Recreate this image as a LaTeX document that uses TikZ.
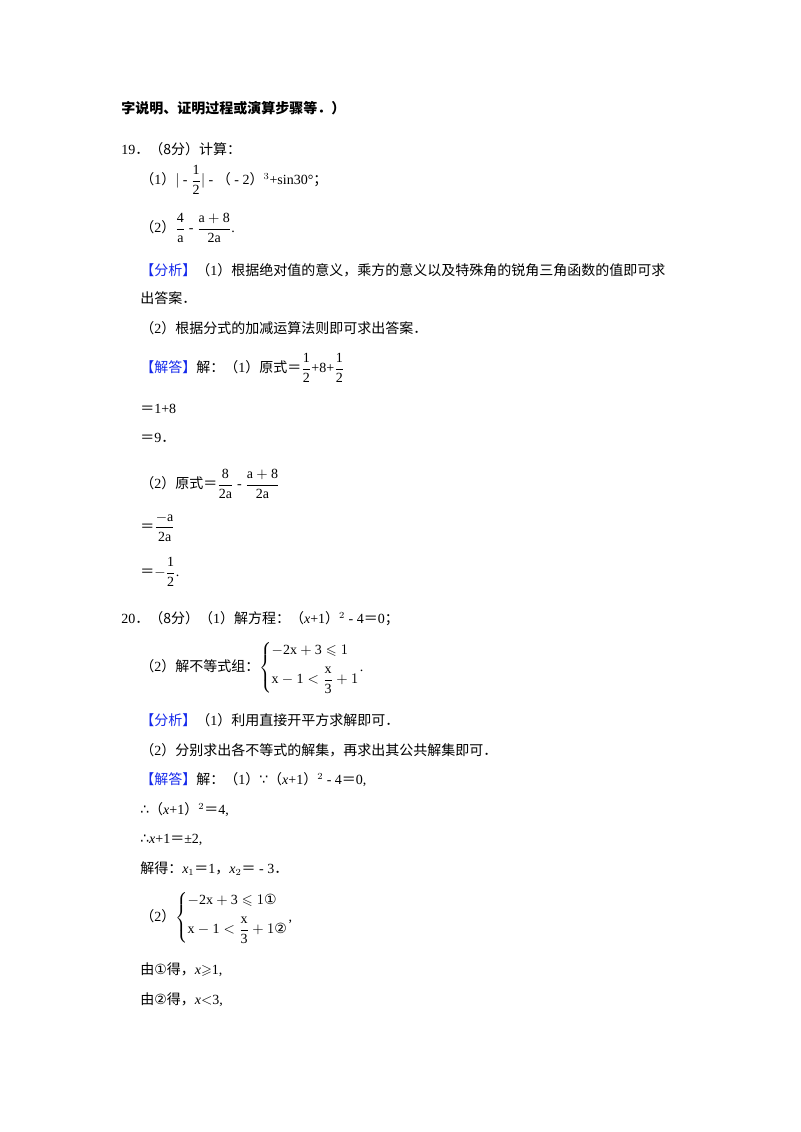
\documentclass[tikz,border=0pt]{standalone}
\usepackage{fontspec}
\usepackage{amsmath,amssymb}
\setmainfont{Liberation Serif}
\newfontfamily\cjk{Noto Sans CJK SC}
\newfontfamily\dv{DejaVu Sans}
\newcommand{\C}[1]{{\cjk #1}}
\newcommand{\fx}[2]{\dfrac{\mathrm{#1}}{\mathrm{#2}}}
\definecolor{fx}{RGB}{20,40,235}
\tikzset{ln/.style={anchor=west,inner sep=0pt,font=\fontsize{10.5}{13}\selectfont}}
\begin{document}
\begin{tikzpicture}[x=0.75pt,y=-0.75pt]
\useasboundingbox (0,0) rectangle (800,1132);
\node[ln] (a0) at (121,108) {\C{\bfseries 字说明、证明过程或演算步骤等．）}};
\node[ln] (a1) at (121,149) {19\C{．（8分）计算：}};
\node[ln] (a2) at (140,180) {\C{（}1\C{）}$|$ - $\fx{1}{2}$$|$ - \C{（} - 2\C{）}$^{3}$+sin30°\C{；}};
\node[ln] (a3) at (140,228) {\C{（}2\C{）}$\fx{4}{a}$ - $\fx{a+8}{2a}$.};
\node[ln] (a4) at (140,270) {\C{\textcolor{fx}{【分析】}（}1\C{）根据绝对值的意义，乘方的意义以及特殊角的锐角三角函数的值即可求}};
\node[ln] (a5) at (140,298) {\C{出答案．}};
\node[ln] (a6) at (140,328) {\C{（}2\C{）根据分式的加减运算法则即可求出答案．}};
\node[ln] (a7) at (140,368) {\C{\textcolor{fx}{【解答】}解：（}1\C{）原式＝}$\fx{1}{2}$+8+$\fx{1}{2}$};
\node[ln] (a8) at (140,409) {\C{＝}1+8};
\node[ln] (a9) at (140,438) {\C{＝}9\C{．}};
\node[ln] (a10) at (140,484) {\C{（}2\C{）原式＝}$\fx{8}{2a}$ - $\fx{a+8}{2a}$};
\node[ln] (a11) at (140,527) {\C{＝}$\fx{-a}{2a}$};
\node[ln] (a12) at (140,572) {\C{＝}$-\fx{1}{2}$.};
\node[ln] (a13) at (121,619) {20\C{．（8分）（}1\C{）解方程：（}\textit{x}+1\C{）}$^{2}$ - 4\C{＝}0\C{；}};
\node[ln] (a14) at (140,668) {\C{（}2\C{）解不等式组：}$\left\{\begin{array}{@{}l@{}}\mathrm{-2x+3}\leqslant 1\\[6pt] \mathrm{x-1}<\fx{x}{3}+1\end{array}\right.$.};
\node[ln] (a15) at (140,720) {\C{\textcolor{fx}{【分析】}（}1\C{）利用直接开平方求解即可．}};
\node[ln] (a16) at (140,750) {\C{（}2\C{）分别求出各不等式的解集，再求出其公共解集即可．}};
\node[ln] (a17) at (140,780) {\C{\textcolor{fx}{【解答】}解：（}1\C{）}{\dv ∵}\C{（}\textit{x}+1\C{）}$^{2}$ - 4\C{＝}0,};
\node[ln] (a18) at (140,810) {{\dv ∴}\C{（}\textit{x}+1\C{）}$^{2}$\C{＝}4,};
\node[ln] (a19) at (140,840) {{\dv ∴}\textit{x}+1\C{＝}±2,};
\node[ln] (a20) at (140,869) {\C{解得：}\textit{x}$_1$\C{＝}1\C{，}\textit{x}$_2$\C{＝} - 3\C{．}};
\node[ln] (a21) at (140,918) {\C{（}2\C{）}$\left\{\begin{array}{@{}l@{}}\mathrm{-2x+3}\leqslant 1\text{\dv ①}\\[6pt] \mathrm{x-1}<\fx{x}{3}+1\text{\dv ②}\end{array}\right.$,};
\node[ln] (a22) at (140,970) {\C{由}{\dv ①}\C{得，}\textit{x}$\geqslant$1,};
\node[ln] (a23) at (140,1000) {\C{由}{\dv ②}\C{得，}\textit{x}$<$3,};
\end{tikzpicture}
\end{document}
